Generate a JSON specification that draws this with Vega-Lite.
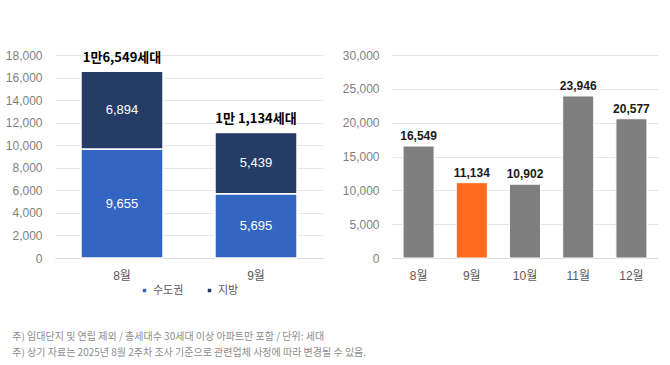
{
  "$schema": "https://vega.github.io/schema/vega-lite/v6.json",
  "padding": {"left": 5, "top": 49, "right": 5, "bottom": 5},
  "background": "#ffffff",
  "bounds": "flush",
  "spacing": 69,
  "resolve": {
    "scale": {"x": "independent", "y": "independent", "color": "independent"},
    "axis": {"x": "independent", "y": "independent"},
    "legend": {"color": "independent"}
  },
  "config": {
    "font": "Liberation Sans, Noto Sans CJK KR",
    "view": {"stroke": null},
    "axis": {"labelFont": "Liberation Sans, Noto Sans CJK KR"},
    "legend": {"layout": {"bottom": {"anchor": "middle"}}}
  },
  "title": {
    "text": [
      "주) 임대단지 및 연립 제외 / 총세대수 30세대 이상 아파트만 포함 / 단위: 세대",
      "주) 상기 자료는 2025년 8월 2주차 조사 기준으로 관련업체 사정에 따라 변경될 수 있음."
    ],
    "orient": "bottom",
    "anchor": "start",
    "frame": "bounds",
    "font": "Noto Sans CJK KR",
    "fontSize": 10,
    "fontWeight": "normal",
    "color": "#8c8c8c",
    "lineHeight": 16,
    "offset": 36,
    "dx": 7
  },
  "hconcat": [
    {
      "width": 268,
      "height": 203,
      "data": {
        "values": [
          {"month": "8월", "region": "수도권", "amount": 9655},
          {"month": "8월", "region": "지방", "amount": 6894},
          {"month": "9월", "region": "수도권", "amount": 5695},
          {"month": "9월", "region": "지방", "amount": 5439}
        ]
      },
      "transform": [
        {"stack": "amount", "groupby": ["month"], "sort": [{"field": "region", "order": "ascending"}], "as": ["v0", "v1"]}
      ],
      "layer": [
        {
          "mark": {"type": "bar", "stroke": "#ffffff", "strokeWidth": 1.5},
          "encoding": {
            "x": {
              "field": "month", "type": "nominal", "sort": null,
              "scale": {"paddingInner": 0.388, "paddingOuter": 0.194},
              "axis": {"title": null, "labelAngle": 0, "ticks": false, "domainColor": "#d9d9d9", "labelColor": "#595959", "labelFontSize": 12, "labelPadding": 12}
            },
            "y": {
              "field": "v0", "type": "quantitative",
              "scale": {"domain": [0, 18000], "nice": false},
              "axis": {"title": null, "values": [0, 2000, 4000, 6000, 8000, 10000, 12000, 14000, 16000, 18000], "format": ",.0f", "labelOverlap": false, "domain": false, "ticks": false, "gridColor": "#e6e6e6", "labelColor": "#7f7f7f", "labelFontSize": 12, "labelPadding": 13}
            },
            "y2": {"field": "v1"},
            "color": {
              "field": "region", "type": "nominal",
              "scale": {"domain": ["수도권", "지방"], "range": ["#3366c2", "#253d66"]},
              "legend": {"title": null, "orient": "bottom", "direction": "horizontal", "symbolType": "square", "symbolSize": 25, "labelFontSize": 11, "labelColor": "#595959", "labelFont": "Noto Sans CJK KR", "columnPadding": 20, "labelOffset": 3, "offset": 4}
            }
          }
        },
        {
          "transform": [
            {"fold": ["v0", "v1"], "as": ["edge", "pos"]}
          ],
          "mark": {"type": "text", "color": "#ffffff", "fontSize": 13, "baseline": "middle"},
          "encoding": {
            "x": {"field": "month", "type": "nominal", "sort": null, "axis": {"title": null, "labelAngle": 0, "ticks": false, "domainColor": "#d9d9d9", "labelColor": "#595959", "labelFontSize": 12, "labelPadding": 12}},
            "y": {"field": "pos", "type": "quantitative", "aggregate": "mean", "axis": {"title": null, "values": [0, 2000, 4000, 6000, 8000, 10000, 12000, 14000, 16000, 18000], "format": ",.0f", "labelOverlap": false, "domain": false, "ticks": false, "gridColor": "#e6e6e6", "labelColor": "#7f7f7f", "labelFontSize": 12, "labelPadding": 13}},
            "detail": {"field": "region"},
            "text": {"field": "amount", "type": "quantitative", "format": ","}
          }
        },
        {
          "data": {
            "values": [
              {"month": "8월", "total": 16549, "label": "1만6,549세대"},
              {"month": "9월", "total": 11134, "label": "1만 1,134세대"}
            ]
          },
          "transform": [],
          "mark": {"type": "text", "color": "#000000", "fontSize": 13, "fontWeight": "bold", "font": "Noto Sans CJK KR", "baseline": "bottom", "dy": -6},
          "encoding": {
            "x": {"field": "month", "type": "nominal", "sort": null, "axis": {"title": null, "labelAngle": 0, "ticks": false, "domainColor": "#d9d9d9", "labelColor": "#595959", "labelFontSize": 12, "labelPadding": 12}},
            "y": {"field": "total", "type": "quantitative", "axis": {"title": null, "values": [0, 2000, 4000, 6000, 8000, 10000, 12000, 14000, 16000, 18000], "format": ",.0f", "labelOverlap": false, "domain": false, "ticks": false, "gridColor": "#e6e6e6", "labelColor": "#7f7f7f", "labelFontSize": 12, "labelPadding": 13}},
            "text": {"field": "label"}
          }
        }
      ]
    },
    {
      "width": 266,
      "height": 203,
      "data": {
        "values": [
          {"month": "8월", "total": 16549},
          {"month": "9월", "total": 11134},
          {"month": "10월", "total": 10902},
          {"month": "11월", "total": 23946},
          {"month": "12월", "total": 20577}
        ]
      },
      "encoding": {
        "x": {
          "field": "month", "type": "nominal", "sort": null,
          "scale": {"paddingInner": 0.417, "paddingOuter": 0.208},
          "axis": {"title": null, "labelAngle": 0, "ticks": false, "domainColor": "#d9d9d9", "labelColor": "#595959", "labelFontSize": 12, "labelPadding": 12}
        },
        "y": {
          "field": "total", "type": "quantitative",
          "scale": {"domain": [0, 30000], "nice": false},
          "axis": {"title": null, "values": [0, 5000, 10000, 15000, 20000, 25000, 30000], "format": ",.0f", "labelOverlap": false, "domain": false, "ticks": false, "gridColor": "#e6e6e6", "labelColor": "#7f7f7f", "labelFontSize": 12, "labelPadding": 13}
        }
      },
      "layer": [
        {
          "mark": {"type": "bar", "stroke": "#ffffff", "strokeWidth": 1},
          "encoding": {
            "color": {
              "field": "month", "type": "nominal",
              "scale": {"domain": ["8월", "9월", "10월", "11월", "12월"], "range": ["#7f7f7f", "#ff6b1c", "#7f7f7f", "#7f7f7f", "#7f7f7f"]},
              "legend": null
            }
          }
        },
        {
          "mark": {"type": "text", "color": "#1a1a1a", "fontSize": 12, "fontWeight": "bold", "baseline": "bottom", "dy": -3},
          "encoding": {
            "text": {"field": "total", "type": "quantitative", "format": ","}
          }
        }
      ]
    }
  ]
}
